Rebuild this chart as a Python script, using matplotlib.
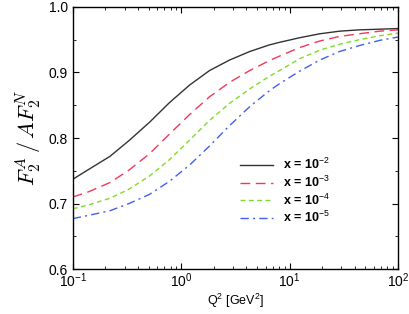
import numpy as np
import matplotlib
matplotlib.use("Agg")
from matplotlib import pyplot as plt
from matplotlib.ticker import MultipleLocator, LogLocator, NullFormatter

# values
q2 = [0.10, 0.14, 0.22, 0.33, 0.51, 0.78, 1.2, 1.83, 2.8, 4.3, 6.5, 8.1,
      12.4, 19, 29, 44, 68, 100]
r_x1e2 = [0.737, 0.752, 0.772, 0.796, 0.824, 0.854, 0.881, 0.903, 0.919, 0.932,
          0.942, 0.946, 0.953, 0.959, 0.963, 0.965, 0.966, 0.967]
r_x1e3 = [0.710, 0.718, 0.732, 0.751, 0.776, 0.806, 0.836, 0.863, 0.885, 0.903,
          0.918, 0.925, 0.938, 0.948, 0.955, 0.959, 0.963, 0.965]
r_x1e4 = [0.692, 0.698, 0.708, 0.722, 0.742, 0.767, 0.797, 0.827, 0.853, 0.875,
          0.894, 0.903, 0.921, 0.934, 0.943, 0.950, 0.956, 0.960]
r_x1e5 = [0.677, 0.682, 0.689, 0.700, 0.714, 0.734, 0.759, 0.788, 0.819, 0.848,
          0.872, 0.883, 0.902, 0.919, 0.932, 0.941, 0.949, 0.954]
labels = [r'x = 10$^{-2}$', r'x = 10$^{-3}$', r'x = 10$^{-4}$', r'x = 10$^{-5}$']

plt.rcParams['font.family'] = ['Liberation Sans', 'DejaVu Sans']
plt.rcParams['mathtext.fontset'] = 'custom'
plt.rcParams['mathtext.rm'] = 'Liberation Sans'
plt.rcParams['mathtext.it'] = 'Liberation Sans:italic'
plt.rcParams['mathtext.bf'] = 'Liberation Sans:bold'

fig = plt.figure(figsize=(4.09, 3.14), dpi=100)
ax = fig.add_axes([0.178, 0.143, 0.795, 0.835])

ax.plot(q2, r_x1e2, color='#333333', lw=1.0, ls='-', label=labels[0])
ax.plot(q2, r_x1e3, color='#f0385a', lw=1.0, ls=(0, (7, 4)), label=labels[1])
ax.plot(q2, r_x1e4, color='#7fdc2a', lw=1.0, ls=(0, (3.5, 2.5)), label=labels[2])
ax.plot(q2, r_x1e5, color='#4060ee', lw=1.0, ls=(0, (6, 3, 1.5, 3)), label=labels[3])

ax.set_xscale('log')
ax.set_xlim(0.1, 100)
ax.set_ylim(0.6, 1.0)
ax.yaxis.set_major_locator(MultipleLocator(0.1))
ax.yaxis.set_minor_locator(MultipleLocator(0.05))
ax.xaxis.set_major_locator(LogLocator(base=10, numticks=10))
ax.xaxis.set_minor_locator(LogLocator(base=10, subs=np.arange(2, 10), numticks=20))
ax.xaxis.set_minor_formatter(NullFormatter())
ax.tick_params(which='both', direction='in', top=True, right=True, labelsize=10)
ax.tick_params(which='major', length=4, width=0.8)
ax.tick_params(which='minor', length=2, width=0.6)
ax.tick_params(axis='x', pad=2)
for s in ax.spines.values():
    s.set_linewidth(1.0)

ax.set_xlabel(r'Q$^2$ [GeV$^2$]', fontsize=9, labelpad=1)
ax.set_ylabel(r'$F_2^A\,/\,AF_2^N$', fontsize=16, math_fontfamily='cm', labelpad=4)

leg = ax.legend(loc='upper left', bbox_to_anchor=(0.48, 0.47), frameon=False,
                prop={'weight': 'bold', 'size': 9}, handlelength=2.6,
                labelspacing=0.2, handletextpad=0.8)

fig.savefig('out.png', dpi=100)
